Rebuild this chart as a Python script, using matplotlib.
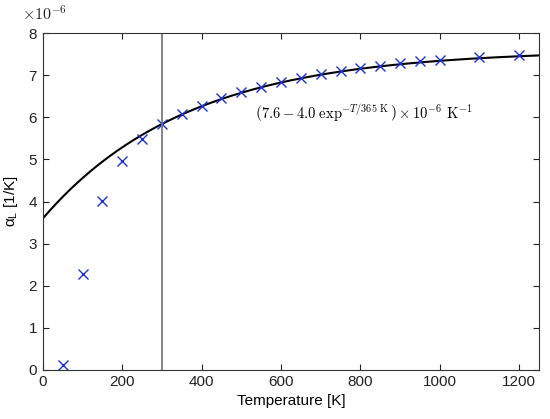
import numpy as np
import matplotlib
matplotlib.use("Agg")
from matplotlib import pyplot as plt

# measured thermal expansion (units of 1e-6 1/K)
temps = [50, 100, 150, 200, 250, 300, 350, 400, 450, 500, 550, 600, 650,
         700, 750, 800, 850, 900, 950, 1000, 1100, 1200]
alpha = [0.12, 2.28, 4.02, 4.96, 5.49, 5.83, 6.09, 6.28, 6.46, 6.60, 6.73,
         6.84, 6.94, 7.03, 7.10, 7.17, 7.23, 7.28, 7.33, 7.36, 7.43, 7.48]

# fit parameters: a - b*exp(-T/tau)
fit_a = 7.6
fit_b = 4.0
fit_tau = 365.0
room_temp = 300

plt.rcParams['font.family'] = ['Liberation Sans', 'DejaVu Sans']
plt.rcParams['font.size'] = 10

fig = plt.figure(figsize=(5.5, 4.19), dpi=100)
ax = fig.add_axes([0.078, 0.117, 0.902, 0.804])

t_fit = np.linspace(0, 1250, 300)
ax.plot(t_fit, (fit_a - fit_b * np.exp(-t_fit / fit_tau)) * 1e-6, color='black', lw=1.5)
ax.plot(temps, np.array(alpha) * 1e-6, 'x', color='#1f2fd6', ms=7, mew=1.0)
ax.axvline(room_temp, color='#707070', lw=1.2)

ax.text(535, 6.1e-6,
        r'$\left(7.6 - 4.0\ \exp^{-T/365\ \mathrm{K}}\right) \times 10^{-6}\ \mathrm{K}^{-1}$',
        math_fontfamily='cm', fontsize=10.5, va='center', ha='left')

ax.set_xlim(0, 1250)
ax.set_ylim(0, 8e-6)
ax.set_xticks(range(0, 1201, 200))
ax.set_yticks(np.arange(0, 9) * 1e-6)
ax.ticklabel_format(axis='y', style='sci', scilimits=(0, 0), useMathText=True)
# draw the axis multiplier by hand, higher up like the original
ax.yaxis.get_offset_text().set_visible(False)
fig.text(22 / 550, 1 - 13 / 419, r'$\times10^{-6}$', math_fontfamily='cm',
         fontsize=11.5, va='center', ha='left', color='#222222')
ax.tick_params(direction='in', top=True, right=True, length=4, width=0.8,
               labelsize=11, colors='#222222')
for s in ax.spines.values():
    s.set_color('#333333')
    s.set_linewidth(0.8)

ax.set_xlabel('Temperature [K]', fontsize=11, labelpad=4)
ax.set_ylabel(r'α$_\mathregular{L}$ [1/K]', fontsize=11, labelpad=6)

fig.savefig('out.png', dpi=100)
